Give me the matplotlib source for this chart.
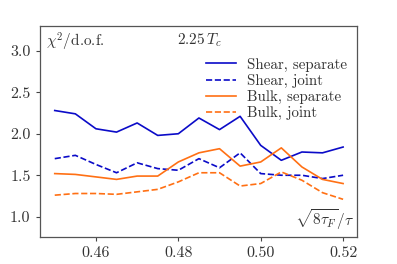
import matplotlib
matplotlib.use("Agg")
import matplotlib.pyplot as plt
import numpy as np

plt.rcParams["font.family"] = "serif"
plt.rcParams["font.serif"] = ["cmr10"]
plt.rcParams["mathtext.fontset"] = "cm"
plt.rcParams["axes.formatter.use_mathtext"] = True
plt.rcParams["font.size"] = 11

# sqrt(8 tau_F)/tau values
x = [0.450, 0.455, 0.460, 0.465, 0.470, 0.475, 0.480, 0.485,
     0.490, 0.495, 0.500, 0.505, 0.510, 0.515, 0.520]

shear_sep = [2.28, 2.24, 2.06, 2.02, 2.13, 1.98, 2.00, 2.19,
             2.05, 2.21, 1.86, 1.68, 1.78, 1.77, 1.84]
shear_joint = [1.70, 1.74, 1.63, 1.53, 1.65, 1.58, 1.56, 1.70,
               1.59, 1.77, 1.52, 1.50, 1.50, 1.46, 1.50]
bulk_sep = [1.52, 1.51, 1.48, 1.45, 1.49, 1.49, 1.66, 1.77,
            1.82, 1.61, 1.66, 1.83, 1.60, 1.45, 1.40]
bulk_joint = [1.26, 1.28, 1.28, 1.27, 1.30, 1.33, 1.42, 1.53,
              1.53, 1.37, 1.40, 1.54, 1.44, 1.29, 1.21]

blue = "#0b0bc8"
orange = "#ff7014"

fig = plt.figure(figsize=(3.97, 2.64), dpi=100)
ax = fig.add_axes([0.0995, 0.102, 0.80, 0.80])

ax.plot(x, shear_sep, color=blue, lw=1.2, label="Shear, separate")
ax.plot(x, shear_joint, color=blue, lw=1.2, ls="--", label="Shear, joint")
ax.plot(x, bulk_sep, color=orange, lw=1.2, label="Bulk, separate")
ax.plot(x, bulk_joint, color=orange, lw=1.2, ls="--", label="Bulk, joint")

ax.set_xlim(0.4463, 0.5234)
ax.set_ylim(0.755, 3.30)
ax.set_xticks([0.46, 0.48, 0.50, 0.52])
ax.set_xticklabels(["0.46", "0.48", "0.50", "0.52"])
ax.set_yticks([1.0, 1.5, 2.0, 2.5, 3.0])
ax.set_yticklabels(["1.0", "1.5", "2.0", "2.5", "3.0"])
ax.tick_params(direction="out", length=3, width=0.8, colors="#444444",
               labelcolor="#333333", labelsize=11.5)

for s in ax.spines.values():
    s.set_color("#555555")
    s.set_linewidth(0.9)

ax.text(0.02, 0.975, r"$\chi^2/$d.o.f.", transform=ax.transAxes,
        ha="left", va="top", fontsize=11, color="#333333")
ax.text(0.433, 0.975, r"$2.25\,T_c$", transform=ax.transAxes,
        ha="left", va="top", fontsize=11, color="#333333")
ax.text(0.99, 0.025, r"$\sqrt{8\tau_F}/\tau$", transform=ax.transAxes,
        ha="right", va="bottom", fontsize=11, color="#333333")

ax.legend(loc="upper right", bbox_to_anchor=(1.0, 0.90), frameon=False,
          fontsize=10.8, handlelength=2.0, handletextpad=0.7, labelspacing=0.15,
          borderaxespad=0.3, labelcolor="#333333")

fig.savefig("out.png", dpi=100)
